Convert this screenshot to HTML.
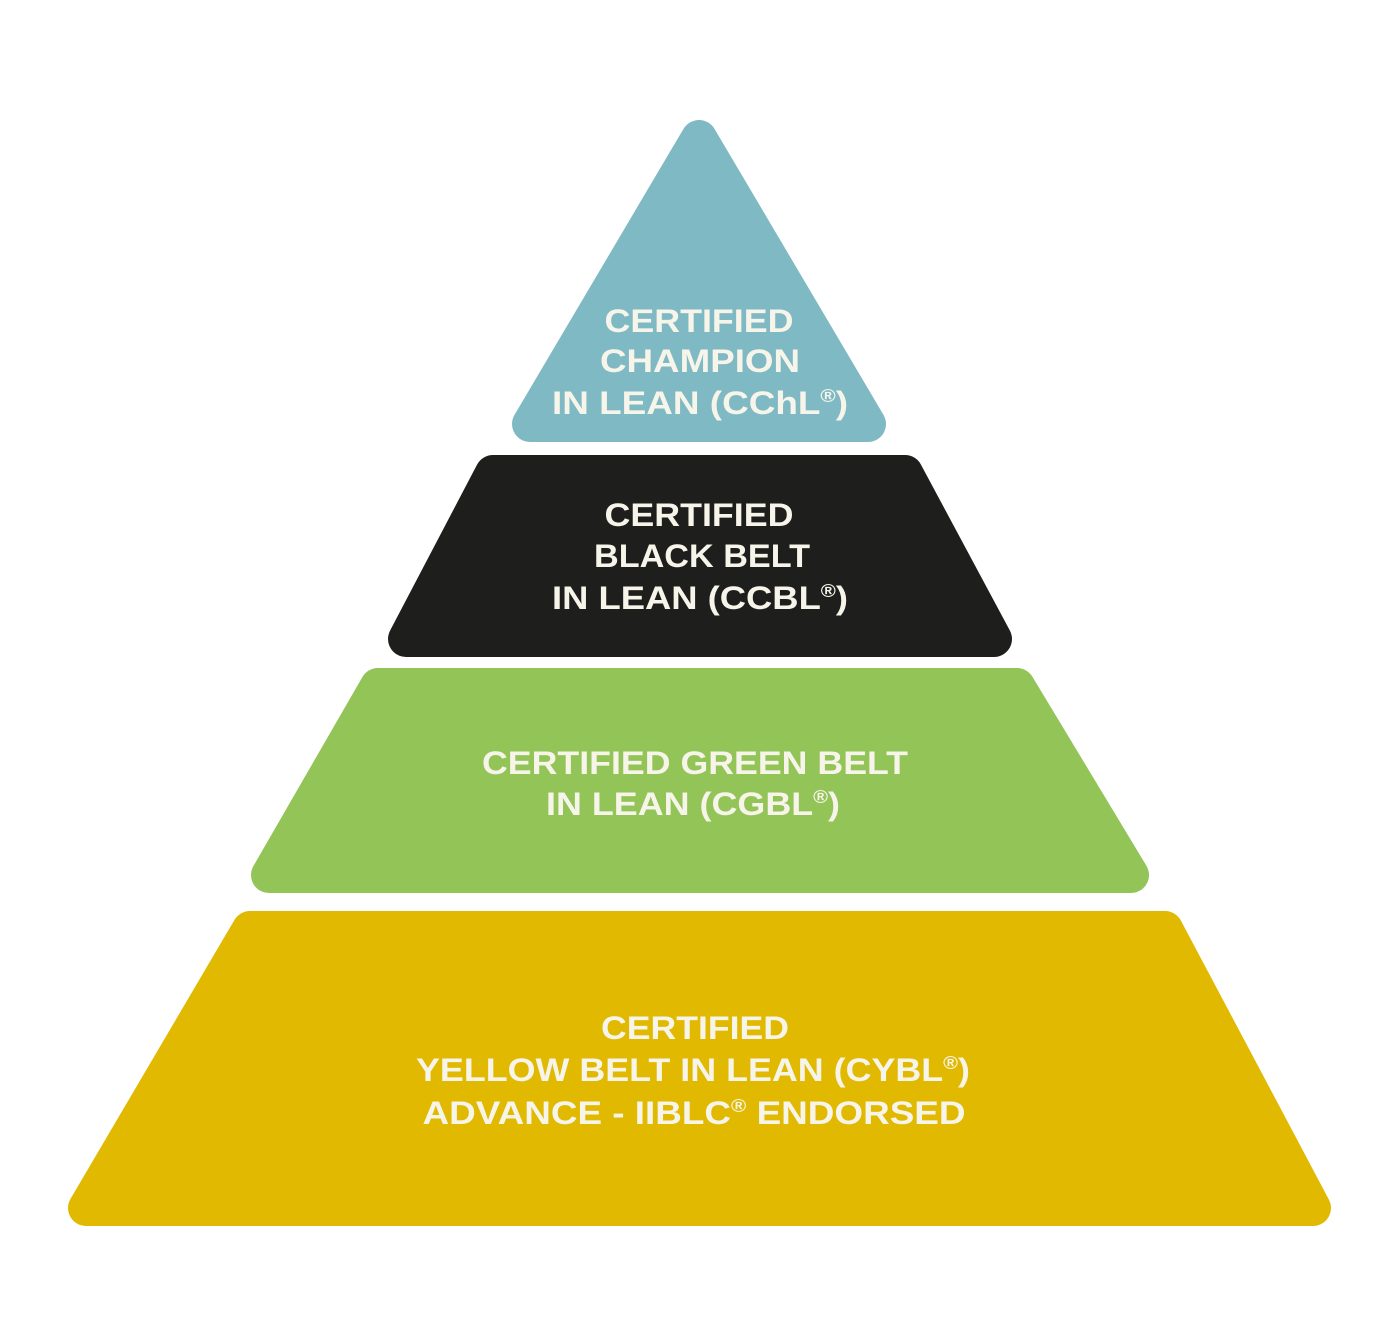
<!DOCTYPE html>
<html><head><meta charset="utf-8"><style>
html,body{margin:0;padding:0;background:#fff;}
svg{display:block;}
text{font-family:"Liberation Sans",sans-serif;font-weight:bold;font-size:32px;fill:#f7f4ea;text-anchor:middle;}
</style></head><body>
<svg width="1400" height="1319" viewBox="0 0 1400 1319">
<g stroke-linejoin="round" stroke-width="36">
<polygon points="699,138 868,424 530,424" fill="#7fbac4" stroke="#7fbac4"/>
<polygon points="493,473 905,473 994,639 406,639" fill="#1e1f1c" stroke="#1e1f1c"/>
<polygon points="378,686 1017,686 1131,875 269,875" fill="#93c457" stroke="#93c457"/>
<polygon points="250,929 1165,929 1313,1208 86,1208" fill="#e0b900" stroke="#e0b900"/>
</g>
<text x="699" y="332" textLength="189" lengthAdjust="spacingAndGlyphs">CERTIFIED</text>
<text x="700" y="372" textLength="200" lengthAdjust="spacingAndGlyphs">CHAMPION</text>
<text x="700" y="414" textLength="296" lengthAdjust="spacingAndGlyphs">IN LEAN (CChL<tspan font-size="18" dy="-12">®</tspan><tspan dy="12">)</tspan></text>
<text x="699" y="526" textLength="189" lengthAdjust="spacingAndGlyphs">CERTIFIED</text>
<text x="702" y="567" textLength="216" lengthAdjust="spacingAndGlyphs">BLACK BELT</text>
<text x="700" y="609" textLength="296" lengthAdjust="spacingAndGlyphs">IN LEAN (CCBL<tspan font-size="18" dy="-12">®</tspan><tspan dy="12">)</tspan></text>
<text x="695" y="774" textLength="426" lengthAdjust="spacingAndGlyphs">CERTIFIED GREEN BELT</text>
<text x="693" y="815" textLength="294" lengthAdjust="spacingAndGlyphs">IN LEAN (CGBL<tspan font-size="18" dy="-12">®</tspan><tspan dy="12">)</tspan></text>
<text x="695" y="1039" textLength="188" lengthAdjust="spacingAndGlyphs">CERTIFIED</text>
<text x="693" y="1081" textLength="554" lengthAdjust="spacingAndGlyphs">YELLOW BELT IN LEAN (CYBL<tspan font-size="18" dy="-12">®</tspan><tspan dy="12">)</tspan></text>
<text x="694" y="1124" textLength="543" lengthAdjust="spacingAndGlyphs">ADVANCE - IIBLC<tspan font-size="18" dy="-12">®</tspan><tspan dy="12"> ENDORSED</tspan></text>
</svg>
</body></html>
